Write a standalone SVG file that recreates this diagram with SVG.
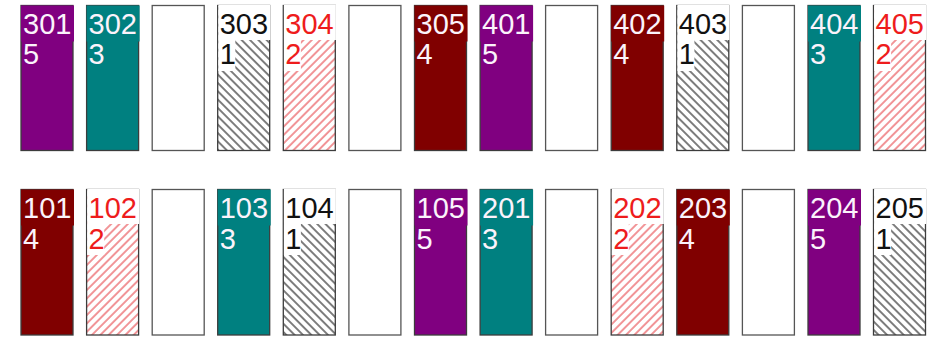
<svg xmlns="http://www.w3.org/2000/svg" width="933" height="339" viewBox="0 0 933 339">
<defs>
<pattern id="hk" patternUnits="userSpaceOnUse" width="5.9" height="10" patternTransform="rotate(-45)">
<rect width="5.9" height="10" fill="#fff"/>
<line x1="1" y1="0" x2="1" y2="10" stroke="#383838" stroke-width="1.3"/>
</pattern>
<pattern id="hr" patternUnits="userSpaceOnUse" width="5.9" height="10" patternTransform="rotate(45)">
<rect width="5.9" height="10" fill="#fff"/>
<line x1="1" y1="0" x2="1" y2="10" stroke="#e8484d" stroke-width="1.15"/>
</pattern>
<style>
.b{stroke:#3c3c3c;stroke-width:1.3}
.e{fill:#fff;stroke:#555}
.c5{fill:#800080}.c3{fill:#008080}.c4{fill:#800000}
.c1{fill:url(#hk)}.c2{fill:url(#hr)}
.w{fill:#fff}
.t{font-family:"Liberation Sans",Arial,sans-serif;font-size:29px}
.tw{fill:#fbf3fb}.tk{fill:#111}.tr{fill:#ee1c1c}
</style>
</defs>

<!-- top row -->
<g id="n301"><rect class="b c5" x="21" y="5.5" width="52" height="145"/><rect class="c5" x="21" y="5.5" width="53" height="36"/><text class="t tw" x="23" y="33.7">301</text><text class="t tw" x="23" y="64.3">5</text></g>
<g id="n302"><rect class="b c3" x="86.6" y="5.5" width="52" height="145"/><rect class="c3" x="86.6" y="5.5" width="53" height="36"/><text class="t tw" x="88.6" y="33.7">302</text><text class="t tw" x="88.6" y="64.3">3</text></g>
<g id="e1"><rect class="b e" x="152.2" y="5.5" width="52" height="145"/></g>
<g id="n303"><rect class="b c1" x="217.7" y="5.5" width="52" height="145"/><rect class="w" x="218.3" y="5" width="52" height="35"/><rect class="w" x="218.3" y="40" width="17" height="31"/><text class="t tk" x="219.7" y="33.7">303</text><text class="t tk" x="219.7" y="64.3">1</text></g>
<g id="n304"><rect class="b c2" x="283.3" y="5.5" width="52" height="145"/><rect class="w" x="283.9" y="5" width="52" height="35"/><rect class="w" x="283.9" y="40" width="17" height="31"/><text class="t tr" x="285.3" y="33.7">304</text><text class="t tr" x="285.3" y="64.3">2</text></g>
<g id="e2"><rect class="b e" x="348.9" y="5.5" width="52" height="145"/></g>
<g id="n305"><rect class="b c4" x="414.5" y="5.5" width="52" height="145"/><rect class="c4" x="414.5" y="5.5" width="53" height="36"/><text class="t tw" x="416.5" y="33.7">305</text><text class="t tw" x="416.5" y="64.3">4</text></g>
<g id="n401"><rect class="b c5" x="480.1" y="5.5" width="52" height="145"/><rect class="c5" x="480.1" y="5.5" width="53" height="36"/><text class="t tw" x="482.1" y="33.7">401</text><text class="t tw" x="482.1" y="64.3">5</text></g>
<g id="e3"><rect class="b e" x="545.6" y="5.5" width="52" height="145"/></g>
<g id="n402"><rect class="b c4" x="611.2" y="5.5" width="52" height="145"/><rect class="c4" x="611.2" y="5.5" width="53" height="36"/><text class="t tw" x="613.2" y="33.7">402</text><text class="t tw" x="613.2" y="64.3">4</text></g>
<g id="n403"><rect class="b c1" x="676.8" y="5.5" width="52" height="145"/><rect class="w" x="677.4" y="5" width="52" height="35"/><rect class="w" x="677.4" y="40" width="17" height="31"/><text class="t tk" x="678.8" y="33.7">403</text><text class="t tk" x="678.8" y="64.3">1</text></g>
<g id="e4"><rect class="b e" x="742.4" y="5.5" width="52" height="145"/></g>
<g id="n404"><rect class="b c3" x="808" y="5.5" width="52" height="145"/><rect class="c3" x="808" y="5.5" width="53" height="36"/><text class="t tw" x="810" y="33.7">404</text><text class="t tw" x="810" y="64.3">3</text></g>
<g id="n405"><rect class="b c2" x="873.5" y="5.5" width="52" height="145"/><rect class="w" x="874.1" y="5" width="52" height="35"/><rect class="w" x="874.1" y="40" width="17" height="31"/><text class="t tr" x="875.5" y="33.7">405</text><text class="t tr" x="875.5" y="64.3">2</text></g>

<!-- bottom row -->
<g id="n101"><rect class="b c4" x="21" y="189.5" width="52" height="145.5"/><rect class="c4" x="21" y="189.5" width="53" height="36"/><text class="t tw" x="23" y="218.3">101</text><text class="t tw" x="23" y="249">4</text></g>
<g id="n102"><rect class="b c2" x="86.6" y="189.5" width="52" height="145.5"/><rect class="w" x="87.2" y="189" width="52" height="35"/><rect class="w" x="87.2" y="224" width="17" height="31"/><text class="t tr" x="88.6" y="218.3">102</text><text class="t tr" x="88.6" y="249">2</text></g>
<g id="e5"><rect class="b e" x="152.2" y="189.5" width="52" height="145.5"/></g>
<g id="n103"><rect class="b c3" x="217.7" y="189.5" width="52" height="145.5"/><rect class="c3" x="217.7" y="189.5" width="53" height="36"/><text class="t tw" x="219.7" y="218.3">103</text><text class="t tw" x="219.7" y="249">3</text></g>
<g id="n104"><rect class="b c1" x="283.3" y="189.5" width="52" height="145.5"/><rect class="w" x="283.9" y="189" width="52" height="35"/><rect class="w" x="283.9" y="224" width="17" height="31"/><text class="t tk" x="285.3" y="218.3">104</text><text class="t tk" x="285.3" y="249">1</text></g>
<g id="e6"><rect class="b e" x="348.9" y="189.5" width="52" height="145.5"/></g>
<g id="n105"><rect class="b c5" x="414.5" y="189.5" width="52" height="145.5"/><rect class="c5" x="414.5" y="189.5" width="53" height="36"/><text class="t tw" x="416.5" y="218.3">105</text><text class="t tw" x="416.5" y="249">5</text></g>
<g id="n201"><rect class="b c3" x="480.1" y="189.5" width="52" height="145.5"/><rect class="c3" x="480.1" y="189.5" width="53" height="36"/><text class="t tw" x="482.1" y="218.3">201</text><text class="t tw" x="482.1" y="249">3</text></g>
<g id="e7"><rect class="b e" x="545.6" y="189.5" width="52" height="145.5"/></g>
<g id="n202"><rect class="b c2" x="611.2" y="189.5" width="52" height="145.5"/><rect class="w" x="611.8" y="189" width="52" height="35"/><rect class="w" x="611.8" y="224" width="17" height="31"/><text class="t tr" x="613.2" y="218.3">202</text><text class="t tr" x="613.2" y="249">2</text></g>
<g id="n203"><rect class="b c4" x="676.8" y="189.5" width="52" height="145.5"/><rect class="c4" x="676.8" y="189.5" width="53" height="36"/><text class="t tw" x="678.8" y="218.3">203</text><text class="t tw" x="678.8" y="249">4</text></g>
<g id="e8"><rect class="b e" x="742.4" y="189.5" width="52" height="145.5"/></g>
<g id="n204"><rect class="b c5" x="808" y="189.5" width="52" height="145.5"/><rect class="c5" x="808" y="189.5" width="53" height="36"/><text class="t tw" x="810" y="218.3">204</text><text class="t tw" x="810" y="249">5</text></g>
<g id="n205"><rect class="b c1" x="873.5" y="189.5" width="52" height="145.5"/><rect class="w" x="874.1" y="189" width="52" height="35"/><rect class="w" x="874.1" y="224" width="17" height="31"/><text class="t tk" x="875.5" y="218.3">205</text><text class="t tk" x="875.5" y="249">1</text></g>
</svg>
